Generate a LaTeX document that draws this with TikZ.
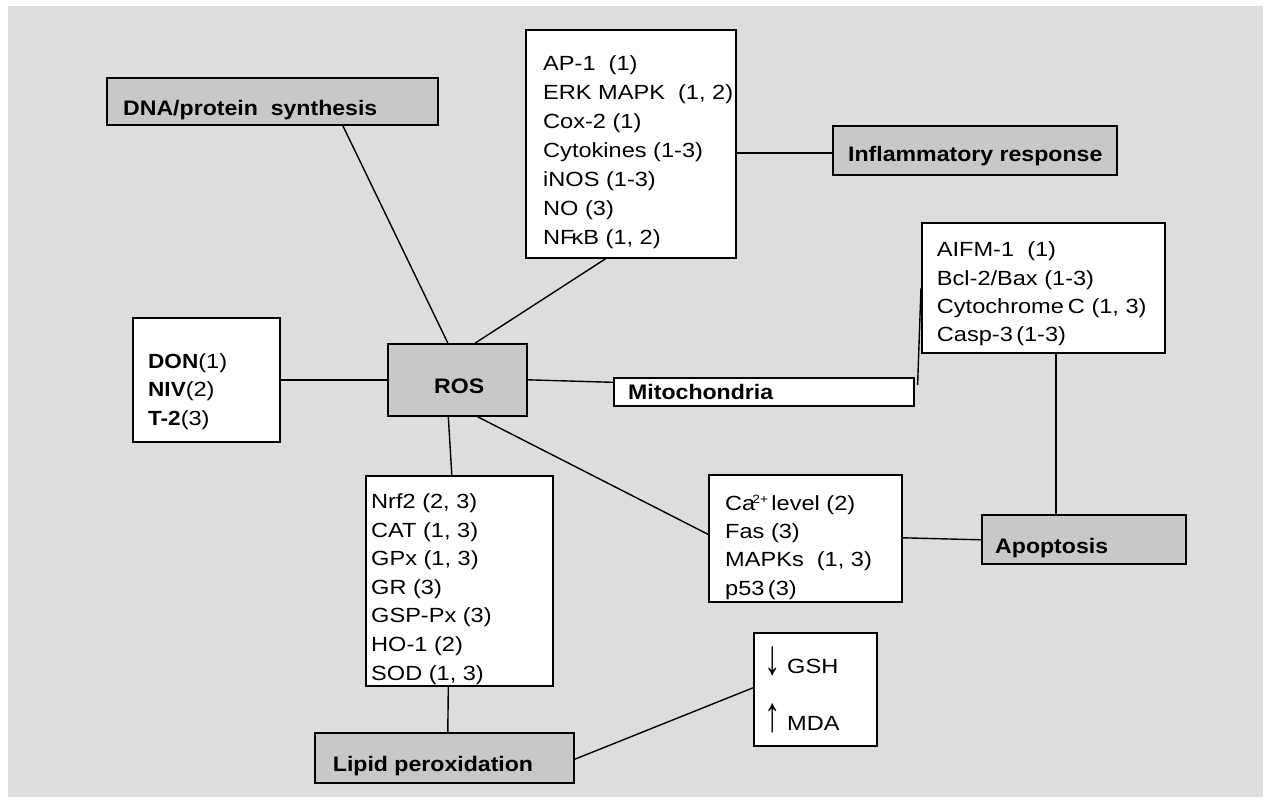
\documentclass[tikz,border=0pt]{standalone}
\usepackage{fontspec}
\usepackage{graphicx}
\setmainfont{Liberation Sans}[FakeStretch=1.15,BoldFeatures={FakeStretch=1.1}]
\newcommand\regtxt{\fontsize{20.5}{28.5}\selectfont}
\newcommand\boldtxt{\fontsize{21}{28}\selectfont\bfseries}
\newcommand\arrowglyph[1]{\raisebox{-1pt}{\scalebox{1.1}[1.9]{\fontsize{26}{26}\selectfont #1}}}
\definecolor{bgcol}{RGB}{222,221,220}
\definecolor{boxgray}{RGB}{200,200,200}
\tikzset{
  wbox/.style={draw=black, line width=1.6pt, fill=white, inner sep=0pt, anchor=north west},
  gbox/.style={wbox, fill=boxgray},
  txt/.style={inner sep=0pt, font=\regtxt, align=left, anchor=north west},
  btxt/.style={inner sep=0pt, font=\boldtxt, anchor=base west},
  conn/.style={draw=black, line width=1.4pt},
}
\begin{document}
\begin{tikzpicture}[x=1pt,y=-1pt]
\useasboundingbox (0,0) rectangle (1267,801);
\fill[bgcol] (8,6) rectangle (1263,797);
% boxes
\node[gbox, minimum width=331, minimum height=47] (dna) at (106,77) {};
\node[wbox, minimum width=210, minimum height=228] (med) at (525,29) {};
\node[gbox, minimum width=284, minimum height=49] (infl) at (832,125) {};
\node[wbox, minimum width=243, minimum height=130] (aifm) at (921,222) {};
\node[wbox, minimum width=147, minimum height=124] (don) at (132,317) {};
\node[gbox, minimum width=139, minimum height=72] (ros) at (387,343) {};
\node[wbox, minimum width=300, minimum height=28] (mito) at (613,377) {};
\node[wbox, minimum width=193, minimum height=127] (ca) at (708,474) {};
\node[gbox, minimum width=204, minimum height=49] (apop) at (981,514) {};
\node[wbox, minimum width=187, minimum height=210] (nrf) at (365,475) {};
\node[wbox, minimum width=123, minimum height=113] (gsh) at (753,632) {};
\node[gbox, minimum width=259, minimum height=50] (lipid) at (314,732) {};
% texts
\node[btxt] (dna-t) at (123,115) {DNA/protein\ \ synthesis};
\node[btxt] (infl-t) at (848,161.7) {Inflammatory response};
\node[btxt] (ros-t) at (434,393.3) {ROS};
\node[btxt] (mito-t) at (628,399.5) {Mitochondria};
\node[btxt] (apop-t) at (995,553) {Apoptosis};
\node[btxt] (lipid-t) at (332.7,771.7) {Lipid peroxidation};
\node[txt, font=\fontsize{20.5}{29}\selectfont] (med-t) at (543,54.7) {\rule{0pt}{16pt}AP-1\ \ (1)\\ERK MAPK\ \ (1, 2)\\Cox-2 (1)\\Cytokines (1-3)\\iNOS (1-3)\\NO (3)\\NF\kern-3pt κB (1, 2)};
\node[txt, font=\fontsize{20.5}{28.3}\selectfont] (aifm-t) at (936.7,240.7) {\rule{0pt}{16pt}AIFM-1\ \ (1)\\Bcl-2/Bax (1-3)\\Cytochrome\kern4pt C (1, 3)\\Casp-3\,(1-3)};
\node[txt, font=\fontsize{20.5}{28.3}\selectfont] (don-t) at (148,352.3) {\rule{0pt}{16pt}\textbf{DON}(1)\\\textbf{NIV}(2)\\\textbf{T-2}(3)};
\node[txt, font=\fontsize{20.5}{28.3}\selectfont] (ca-t) at (725,494) {\rule{0pt}{16pt}Ca\kern-3pt\raisebox{7pt}{\fontsize{12}{12}\selectfont 2+}\,level (2)\\Fas (3)\\MAPKs\ \ (1, 3)\\p53\,(3)};
\node[txt, font=\fontsize{20.5}{28.6}\selectfont] (nrf-t) at (371,492.3) {\rule{0pt}{16pt}Nrf2 (2, 3)\\CAT (1, 3)\\GPx (1, 3)\\GR (3)\\GSP-Px (3)\\HO-1 (2)\\SOD (1, 3)};
\node[txt, anchor=base west] (gsh-t) at (764,673.3) {\arrowglyph{↓}\ GSH};
\node[txt, anchor=base west] (mda-t) at (764,730) {\arrowglyph{↑}\ MDA};
% connectors
\draw[conn] ([xshift=70.5]dna.south) -- ([xshift=-9.5]ros.north);
\draw[conn] ([xshift=18]ros.north) -- ([xshift=-25]med.south);
\draw[conn] ([yshift=-9]med.east) -- ([yshift=-2.5]infl.west);
\draw[conn] (don.east) -- (ros.west);
\draw[conn] (ros.east) -- ([yshift=9.5]mito.west);
\draw[conn] ([xshift=3,yshift=-8]mito.north east) -- (aifm.west);
\draw[conn] ([xshift=12.5]aifm.south) -- ([xshift=-28]apop.north);
\draw[conn] ([yshift=0.5]ca.east) -- ([yshift=-0.5]apop.west);
\draw[conn] ([xshift=20]ros.south) -- ([yshift=4]ca.west);
\draw[conn] ([xshift=-9]ros.south) -- ([xshift=-7.5]nrf.north);
\draw[conn] ([xshift=-11]nrf.south) -- ([xshift=3.5]lipid.north);
\draw[conn] ([yshift=-1.5]lipid.east) -- ([yshift=1.5]gsh.west);
\end{tikzpicture}
\end{document}
